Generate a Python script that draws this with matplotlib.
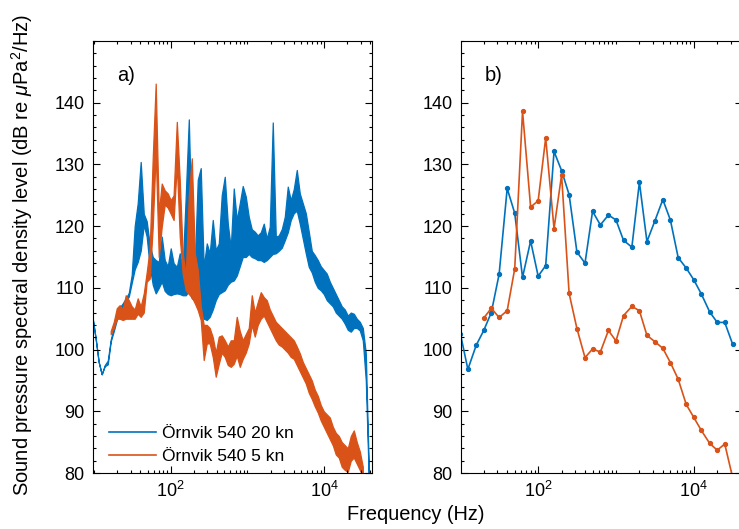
import matplotlib
matplotlib.use("Agg")
import matplotlib.pyplot as plt
from matplotlib.ticker import LogLocator, FixedLocator, MultipleLocator, NullFormatter

plt.rcParams["font.family"] = ["Liberation Sans", "DejaVu Sans"]
plt.rcParams["mathtext.fontset"] = "custom"
plt.rcParams["mathtext.rm"] = "Liberation Sans"
plt.rcParams["mathtext.it"] = "Liberation Sans:italic"

BLUE = "#0072BD"
ORANGE = "#D95319"

# --- panel a: narrowband spectra, read as lower/upper envelope per column ---
a_freq = [9.62, 10.5, 11.5, 12.6, 13.8, 15.1, 16.5, 18.1, 19.8, 21.6, 23.7, 25.9,
          28.4, 31.0, 33.9, 37.1, 40.6, 44.5, 48.6, 53.2, 58.3, 63.7, 69.8, 76.3,
          83.5, 91.4, 100, 109, 120, 131, 143, 157, 172, 188, 206, 225, 246, 269,
          295, 322, 353, 386, 423, 462, 506, 554, 606, 663, 725, 794, 868, 950,
          1040, 1138, 1245, 1362, 1491, 1631, 1785, 1953, 2137, 2339, 2559, 2800,
          3064, 3353, 3669, 4015, 4393, 4807, 5260, 5756, 6298, 6892, 7541, 8252,
          9030, 9880, 10810, 11830, 12950, 14170, 15500, 16960, 18560, 20310,
          22230, 24320, 26610, 29120, 31870, 34870, 38150]

fast_lo = [105.0, 101.8, 98.0, 96.0, 97.3, 97.6, 101.3, 103.0, 104.8, 106.0, 107.0, 107.7,
           108.6, 110.8, 113.0, 114.2, 116.0, 120.2, 118.3, 113.5, 110.5, 109.1, 110.0, 111.0,
           109.5, 109.0, 108.8, 109.0, 109.1, 109.0, 108.8, 108.8, 109.5, 108.3, 108.0, 107.0,
           105.8, 105.0, 104.8, 105.3, 106.5, 108.0, 109.0, 109.3, 109.6, 110.5, 111.0, 111.2,
           112.0, 113.5, 115.0, 115.0, 115.5, 115.0, 114.8, 114.5, 114.5, 114.2, 114.5, 115.0,
           115.5, 115.6, 116.0, 116.5, 117.7, 119.0, 121.0, 122.1, 122.5, 120.4, 118.0, 115.6,
           113.4, 112.5, 111.0, 110.0, 109.6, 109.0, 108.0, 107.5, 107.0, 106.0, 105.5, 105.0,
           104.2, 103.2, 102.9, 103.5, 103.5, 103.1, 101.5, 95.0, 79.0]
fast_hi = [105.0, 101.8, 98.0, 96.0, 97.5, 98.2, 101.6, 103.6, 105.8, 106.8, 107.5, 108.3,
           109.2, 112.1, 120.0, 123.7, 130.4, 122.0, 120.8, 117.0, 115.0, 114.5, 114.2, 118.3,
           114.5, 113.5, 116.4, 114.0, 113.4, 115.6, 113.0, 125.0, 137.3, 118.0, 114.0, 127.5,
           129.4, 113.4, 117.2, 115.6, 121.0, 116.1, 117.2, 125.0, 128.0, 120.4, 116.5, 126.1,
           121.0, 123.7, 126.5, 124.8, 121.5, 119.5, 119.1, 118.5, 119.0, 120.4, 118.0, 119.9,
           136.8, 118.3, 118.5, 119.5, 121.5, 126.4, 124.2, 126.0, 129.1, 125.3, 123.7, 122.1,
           119.1, 116.0, 115.3, 114.5, 113.5, 112.9, 112.3, 111.0, 110.0, 109.0, 108.0, 107.0,
           106.5, 105.5, 106.0, 105.8, 105.0, 104.5, 103.5, 99.4, 80.4]

slow_freq = a_freq[6:91]
slow_lo = [102.5, 103.5, 105.0, 105.0, 104.8, 105.0, 105.0, 105.0, 105.0, 105.8, 105.3, 106.0,
           111.0, 111.5, 120.0, 132.0, 115.0, 119.9, 123.5, 123.0, 122.0, 121.0, 130.0, 118.3,
           112.3, 109.6, 109.0, 108.5, 107.5, 106.4, 104.8, 98.3, 101.0, 101.0, 98.8, 95.6,
           97.7, 99.5, 98.8, 97.5, 97.2, 97.7, 99.0, 97.2, 98.5, 99.5, 101.0, 104.0,
           102.1, 104.0, 105.0, 105.5, 104.5, 103.5, 102.5, 101.5, 100.8, 100.5, 100.0, 99.5,
           98.8, 98.5, 97.5, 96.5, 95.5, 94.5, 93.0, 92.0, 90.8, 89.8, 88.5, 87.5,
           86.5, 85.5, 84.5, 83.0, 82.5, 81.0, 80.5, 80.2, 82.0, 82.5, 81.5, 80.5, 79.5]
slow_hi = [103.0, 104.5, 106.7, 107.2, 106.5, 108.8, 108.0, 107.0, 106.5, 108.3, 107.0, 109.1,
           112.5, 116.4, 131.2, 143.1, 122.1, 126.9, 125.8, 125.3, 124.2, 125.0, 136.9, 127.5,
           115.6, 112.0, 125.0, 131.0, 115.6, 112.9, 107.0, 104.0, 104.0, 103.5, 102.0, 99.5,
           102.1, 102.3, 101.5, 100.5, 101.5, 101.5, 105.3, 103.0, 101.5, 102.5, 103.5, 108.8,
           106.0, 107.7, 109.3, 108.5, 108.0, 106.5, 105.5, 104.5, 104.0, 103.5, 103.0, 102.5,
           102.0, 101.5, 100.5, 99.4, 98.0, 97.0, 96.0, 95.0, 93.5, 92.5, 91.0, 90.0,
           89.5, 89.0, 87.5, 86.5, 86.0, 85.0, 84.5, 84.0, 86.0, 86.9, 85.0, 83.5, 81.0]

# --- panel b: third-octave band levels ---
band_freq = [10, 12.5, 16, 20, 25, 31.5, 40, 50, 63, 80, 100, 125, 160, 200, 250, 315,
             400, 500, 630, 800, 1000, 1250, 1600, 2000, 2500, 3150, 4000, 5000, 6300,
             8000, 10000, 12500, 16000, 20000, 25000, 31500]
fast_band = [102.6, 96.8, 100.7, 103.1, 106.0, 112.2, 126.1, 122.1, 111.7, 117.6, 111.9,
             113.6, 132.1, 129.0, 125.1, 115.8, 114.0, 122.4, 120.2, 121.8, 121.0, 117.7,
             116.6, 127.1, 117.5, 120.8, 124.3, 121.0, 114.9, 113.2, 111.3, 109.0, 106.1,
             104.4, 104.4, 100.9]
slow_band_freq = band_freq[3:]
slow_band = [105.1, 106.7, 105.2, 106.3, 113.1, 138.6, 123.1, 124.1, 134.3, 119.6, 128.3,
             109.1, 103.4, 98.7, 100.1, 99.6, 103.1, 101.4, 105.5, 107.0, 106.3, 102.3,
             101.3, 100.2, 97.9, 95.2, 91.1, 89.0, 86.9, 84.8, 83.7, 84.7, 79.3]

labels = ["Örnvik 540 20 kn", "Örnvik 540 5 kn"]


def band(ax, freq, lo, hi, color, label):
    # noisy narrowband trace drawn as its filled envelope
    ax.fill_between(freq, lo, hi, color=color, lw=0.9, edgecolor=color)
    ax.plot([], [], color=color, lw=1.2, label=label)


def style_axes(ax, xlim):
    ax.set_xscale("log")
    ax.set_xlim(*xlim)
    ax.set_ylim(80, 150)
    ax.xaxis.set_major_locator(FixedLocator([1e2, 1e4]))
    ax.xaxis.set_minor_locator(LogLocator(base=10, subs=[1, 2, 3, 4, 5, 6, 7, 8, 9], numticks=20))
    ax.xaxis.set_minor_formatter(NullFormatter())
    ax.yaxis.set_major_locator(FixedLocator([80, 90, 100, 110, 120, 130, 140]))
    ax.yaxis.set_minor_locator(MultipleLocator(2))
    ax.tick_params(which="both", direction="in", top=True, right=True,
                   labelsize=13, width=0.8)
    ax.tick_params(which="major", length=5, pad=6)
    ax.tick_params(which="minor", length=2.5)
    for s in ax.spines.values():
        s.set_linewidth(0.8)


fig = plt.figure(figsize=(7.39, 5.29), dpi=100)
ax1 = fig.add_axes([93 / 739, 1 - 473 / 529, 279 / 739, 432 / 529])
ax2 = fig.add_axes([461 / 739, 1 - 473 / 529, 281.3 / 739, 432 / 529])

band(ax1, a_freq, fast_lo, fast_hi, BLUE, labels[0])
band(ax1, slow_freq, slow_lo, slow_hi, ORANGE, labels[1])
style_axes(ax1, (9.7, 42000))
ax1.text(0.085, 0.92, "a)", transform=ax1.transAxes, fontsize=14.5, va="center")
ax1.legend(loc="lower left", bbox_to_anchor=(0.0, -0.015), frameon=False,
           fontsize=12.5, handlelength=2.7, handletextpad=0.35, labelspacing=0.45)

ax2.plot(band_freq, fast_band, color=BLUE, lw=1.2, marker="o", ms=2.8)
ax2.plot(slow_band_freq, slow_band, color=ORANGE, lw=1.2, marker="o", ms=2.8)
style_axes(ax2, (10.2, 42000))
ax2.text(0.085, 0.92, "b)", transform=ax2.transAxes, fontsize=14.5, va="center")

fig.text(415.5 / 739, 1 - 515 / 529, "Frequency (Hz)", fontsize=14.4, ha="center", va="center")
fig.text(22 / 739, 1 - 255 / 529,
         r"Sound pressure spectral density level (dB re $\mu$Pa$^2$/Hz)",
         fontsize=14.5, rotation=90, ha="center", va="center")

fig.savefig("out.png", dpi=100)
